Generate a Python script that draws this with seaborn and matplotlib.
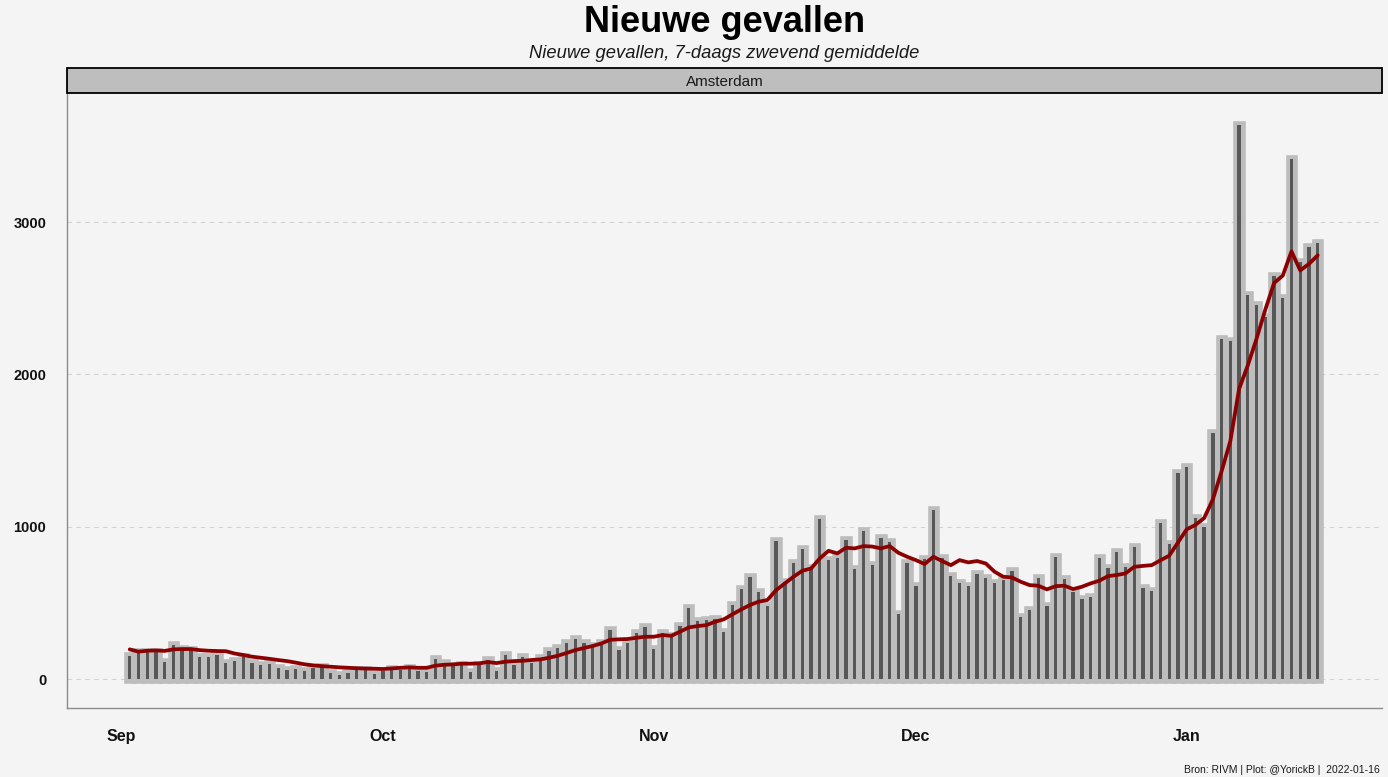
import numpy as np
import pandas as pd
import matplotlib
matplotlib.use("Agg")
import matplotlib.pyplot as plt
import seaborn as sns
from matplotlib.patches import Rectangle

# ---------------- data ----------------
start_date = "2021-09-02"
end_date = "2022-01-16"
origin_date = "2021-09-01"

cases_sep = [153, 179, 179, 179, 114, 223, 195, 190, 147, 142, 158, 103, 120, 147,
             103, 92, 98, 70, 59, 63, 55, 70, 77, 42, 26, 37, 62, 59, 35]
cases_oct = [50, 65, 59, 70, 53, 44, 129, 103, 85, 92, 48, 92, 125, 55, 158, 92,
             147, 103, 136, 186, 201, 234, 263, 234, 217, 234, 324, 188, 234, 300, 339]
cases_nov = [197, 300, 282, 348, 468, 381, 387, 392, 311, 484, 591, 667, 573, 479,
             906, 639, 759, 851, 726, 1050, 781, 792, 912, 722, 972, 748, 928, 902,
             427, 759]
cases_dec = [610, 788, 1109, 792, 676, 628, 613, 689, 665, 628, 650, 711, 409, 453,
             665, 481, 803, 654, 569, 525, 536, 792, 731, 832, 733, 864, 600, 575,
             1025, 890, 1355]
cases_jan = [1390, 1060, 997, 1614, 2235, 2222, 3640, 2523, 2457, 2375, 2649, 2499,
             3415, 2736, 2835, 2864]

avg_sep = [195, 180, 186, 188, 185, 195, 197, 197, 190, 186, 184, 183, 168, 158,
           147, 140, 133, 125, 118, 108, 97, 90, 85, 81, 77, 74, 71, 69, 68]
avg_oct = [66, 70, 74, 77, 74, 74, 88, 94, 96, 101, 101, 103, 112, 105, 114, 118,
           120, 125, 129, 140, 153, 171, 190, 204, 217, 234, 258, 261, 263, 271, 278]
avg_nov = [278, 289, 284, 311, 339, 348, 354, 376, 392, 425, 457, 486, 508, 519,
           584, 628, 672, 711, 726, 792, 842, 825, 862, 858, 873, 870, 858, 873,
           829, 803]
avg_dec = [781, 755, 803, 775, 748, 781, 766, 775, 759, 705, 672, 667, 639, 617,
           613, 589, 610, 613, 591, 606, 628, 646, 676, 683, 694, 737, 743, 748,
           780, 810, 896]
avg_jan = [983, 1012, 1057, 1180, 1365, 1563, 1905, 2060, 2235, 2425, 2600, 2649,
           2808, 2683, 2726, 2782]

month_ticks = ["2021-09-01", "2021-10-01", "2021-11-01", "2021-12-01", "2022-01-01"]
month_labels = ["Sep", "Oct", "Nov", "Dec", "Jan"]
y_ticks = [0, 1000, 2000, 3000]
y_labels = ["0", "1000", "2000", "3000"]

title = "Nieuwe gevallen"
subtitle = "Nieuwe gevallen, 7-daags zwevend gemiddelde"
facet = "Amsterdam"
caption = "Bron: RIVM | Plot: @YorickB |  2022-01-16"

# ---------------- build frame ----------------
cases = cases_sep + cases_oct + cases_nov + cases_dec + cases_jan
avg = avg_sep + avg_oct + avg_nov + avg_dec + avg_jan
dates = pd.date_range(start_date, end_date, freq="D")
origin = pd.Timestamp(origin_date)
df = pd.DataFrame({"day": (dates - origin).days.astype(float),
                   "cases": cases, "avg": avg})
tick_pos = [(pd.Timestamp(t) - origin).days for t in month_ticks]

# ---------------- style ----------------
BG = "#f4f4f4"
sns.set_theme(style="white")
plt.rcParams["font.family"] = ["Liberation Sans", "DejaVu Sans"]

W, H = 1388, 777
fig = plt.figure(figsize=(W / 100, H / 100), dpi=100, facecolor=BG)
ax_l, ax_r, ax_t, ax_b = 67, 1382, 93, 708
ax = fig.add_axes([ax_l / W, 1 - ax_b / H, (ax_r - ax_l) / W, (ax_b - ax_t) / H])
ax.set_facecolor(BG)
ax.set_axisbelow(True)

# light wide bars (thick outline) then narrow dark bars
sns.barplot(data=df, x="day", y="cases", native_scale=True, width=0.38,
            color="#bdbdbd", saturation=1, edgecolor="#bdbdbd", linewidth=6.2,
            errorbar=None, ax=ax, zorder=2)
sns.barplot(data=df, x="day", y="cases", native_scale=True, width=0.38,
            color="#575757", saturation=1, linewidth=0,
            errorbar=None, ax=ax, zorder=3)
sns.lineplot(data=df, x="day", y="avg", color="#8b0000", linewidth=2.7,
             ax=ax, zorder=4, solid_joinstyle="round", solid_capstyle="round")

ax.set_xlim(-6.18, 144.36)
ax.set_ylim(-190, 3848)
ax.set_xticks(tick_pos)
ax.set_xticklabels(month_labels, fontsize=11.5, fontweight="bold", color="#111111")
ax.set_yticks(y_ticks)
ax.set_yticklabels(y_labels, fontsize=10.5, fontweight="bold", color="#111111")
ax.tick_params(axis="x", length=0, pad=15)
ax.tick_params(axis="y", length=0, pad=15)
ax.set_xlabel("")
ax.set_ylabel("")

ax.grid(axis="y", linestyle=(0, (4, 4)), color="#d2d2d2", linewidth=0.8)
ax.grid(axis="x", visible=False)
for s in ["top", "right"]:
    ax.spines[s].set_visible(False)
for s in ["left", "bottom"]:
    ax.spines[s].set_color("#8c8c8c")
    ax.spines[s].set_linewidth(1.0)

# facet strip
strip_h = 25 / (ax_b - ax_t)
ax.add_patch(Rectangle((0, 1), 1, strip_h, transform=ax.transAxes,
                       facecolor="#bebebe", edgecolor="black", linewidth=1.3,
                       clip_on=False, zorder=5))
ax.text(0.5, 1 + strip_h / 2 - 0.002, facet, transform=ax.transAxes, ha="center",
        va="center", fontsize=11, color="#1a1a1a", zorder=6)

# titles
cx = (ax_l + ax_r) / 2 / W
fig.text(cx, 1 - 32 / H, title, ha="center", va="baseline", fontsize=26,
         fontweight="bold", color="black")
fig.text(cx, 1 - 58 / H, subtitle, ha="center", va="baseline", fontsize=13.2,
         fontstyle="italic", color="#1a1a1a")
fig.text(1380 / W, 1 - 773 / H, caption, ha="right", va="baseline",
         fontsize=7.5, color="#1a1a1a")

fig.savefig("out.png", dpi=100, facecolor=BG)
